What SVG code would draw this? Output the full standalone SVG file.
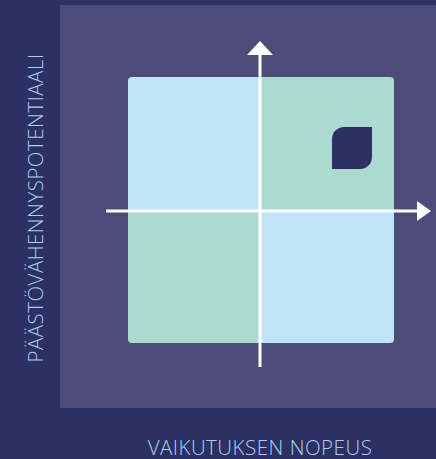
<svg xmlns="http://www.w3.org/2000/svg" width="436" height="459" viewBox="0 0 436 459">
<defs>
<style>
.lbl{font-family:"Open Sans","Noto Sans",sans-serif;font-size:20.5px;fill:#a9cff2;font-weight:300;letter-spacing:0.5px}
.ax{stroke:#ffffff;stroke-width:3;fill:none}
</style>
<clipPath id="q"><rect x="128" y="77" width="266" height="266" rx="4"/></clipPath>
</defs>
<rect x="0" y="0" width="436" height="459" fill="#2c3063"/>
<rect x="60" y="5" width="376" height="403" fill="#4b4d78"/>
<g id="quadrants" clip-path="url(#q)">
<rect x="128" y="77" width="132" height="134" fill="#c1e3f7"/>
<rect x="260" y="77" width="134" height="134" fill="#acd9d0"/>
<rect x="128" y="211" width="132" height="132" fill="#acd9d0"/>
<rect x="260" y="211" width="134" height="132" fill="#c1e3f7"/>
</g>
<g id="marker-node">
<path d="M344,127 H372 V157 A12,12 0 0 1 360,169 H332 V139 A12,12 0 0 1 344,127 Z" fill="#2c3063"/>
</g>
<g id="connectors">
<line class="ax" x1="260" y1="367" x2="260" y2="54"/>
<polygon points="260,41 247,55 273,55" fill="#ffffff"/>
<line class="ax" x1="106" y1="211" x2="418" y2="211"/>
<polygon points="431,211 417,201 417,221" fill="#ffffff"/>
</g>
<g id="labels">
<text class="lbl" x="260" y="455" text-anchor="middle">VAIKUTUKSEN NOPEUS</text>
<text class="lbl" x="0" y="0" text-anchor="middle" transform="translate(43,208) rotate(-90)">PÄÄSTÖVÄHENNYSPOTENTIAALI</text>
</g>
</svg>
